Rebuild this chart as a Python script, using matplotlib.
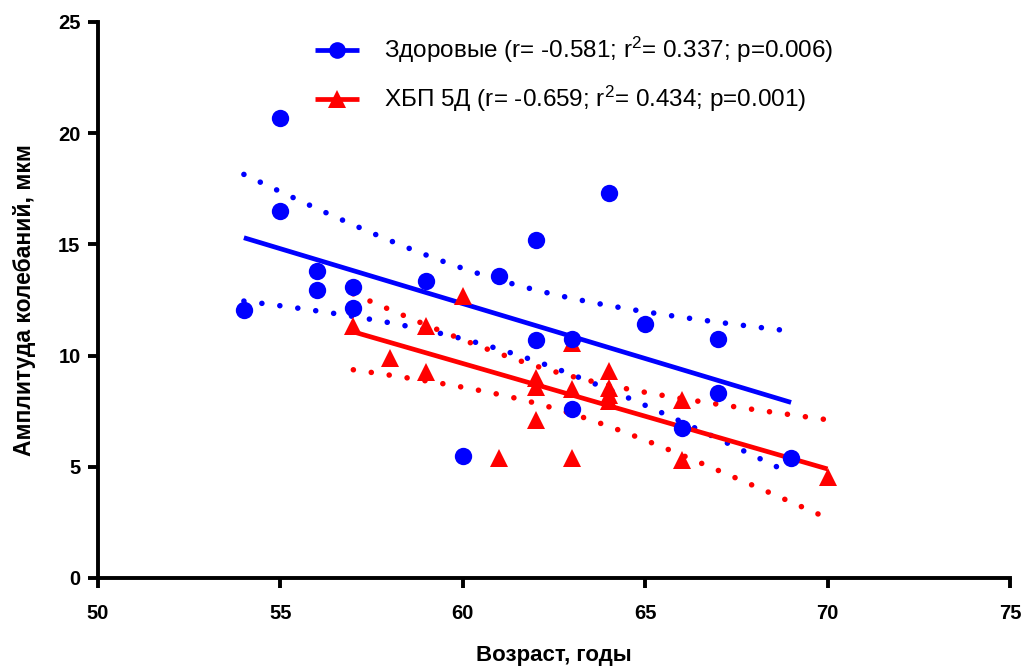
import numpy as np
import matplotlib
matplotlib.use("Agg")
import matplotlib.pyplot as plt

# Возраст и амплитуда колебаний: здоровые
healthy_age = [54, 55, 55, 56, 56, 57, 57, 59, 60, 61, 62, 62, 63, 63, 64, 65, 66, 67, 67, 69]
healthy_amp = [12.05, 20.7, 16.5, 13.8, 12.95, 13.1, 12.15, 13.35, 5.5, 13.6,
               15.2, 10.7, 10.75, 7.6, 17.3, 11.4, 6.75, 10.75, 8.3, 5.4]

# ХБП 5Д
ckd_age = [57, 58, 59, 59, 60, 61, 62, 62, 62, 63, 63, 63, 64, 64, 64, 64, 66, 66, 70]
ckd_amp = [11.33, 9.9, 11.33, 9.25, 12.7, 5.4, 9.0, 8.6, 7.1, 10.55, 8.5, 5.4,
           9.3, 8.55, 8.25, 7.95, 8.0, 5.3, 4.55]

healthy_label = "Здоровые (r= -0.581; r$^2$= 0.337; p=0.006)"
ckd_label = "ХБП 5Д (r= -0.659; r$^2$= 0.434; p=0.001)"

x_ticks = [50, 55, 60, 65, 70, 75]
y_ticks = [0, 5, 10, 15, 20, 25]

# two-sided 95% Student t critical values by degrees of freedom
T975 = {14: 2.145, 15: 2.131, 16: 2.120, 17: 2.110, 18: 2.101, 19: 2.093,
        20: 2.086, 21: 2.080, 22: 2.074, 23: 2.069, 24: 2.064}

plt.rcParams["font.family"] = ["Liberation Sans", "DejaVu Sans"]
plt.rcParams["mathtext.fontset"] = "custom"
plt.rcParams["mathtext.rm"] = "Liberation Sans"
plt.rcParams["mathtext.it"] = "Liberation Sans:italic"
plt.rcParams["mathtext.bf"] = "Liberation Sans:bold"


def fit_with_band(x, y, n_pts=200):
    x = np.asarray(x, float)
    y = np.asarray(y, float)
    n = len(x)
    slope, intercept = np.polyfit(x, y, 1)
    resid = y - (slope * x + intercept)
    s = np.sqrt(np.sum(resid ** 2) / (n - 2))
    sxx = np.sum((x - x.mean()) ** 2)
    xs = np.linspace(x.min(), x.max(), n_pts)
    ys = slope * xs + intercept
    half = T975[n - 2] * s * np.sqrt(1.0 / n + (xs - x.mean()) ** 2 / sxx)
    return xs, ys, ys - half, ys + half


fig = plt.figure(figsize=(10.27, 6.72), dpi=100)
ax = fig.add_axes([0.0954, 0.1399, 0.888, 0.8274])

BLUE = "#0000ff"
RED = "#ff0000"
LW = 3.4
dot_style = dict(linestyle=(0, (0.01, 3.25)), dash_capstyle="round", linewidth=4.0)

for age, amp, color in [(healthy_age, healthy_amp, BLUE), (ckd_age, ckd_amp, RED)]:
    xs, ys, lo, hi = fit_with_band(age, amp)
    ax.plot(xs, lo, color=color, zorder=2, **dot_style)
    ax.plot(xs, hi, color=color, zorder=2, **dot_style)

for age, amp, color in [(healthy_age, healthy_amp, BLUE), (ckd_age, ckd_amp, RED)]:
    xs, ys, lo, hi = fit_with_band(age, amp)
    ax.plot(xs, ys, color=color, linewidth=LW, solid_capstyle="butt", zorder=3)

ax.plot(ckd_age, ckd_amp, linestyle="none", marker="^", markersize=12.5,
        color=RED, markeredgewidth=0, zorder=4)
ax.plot(healthy_age, healthy_amp, linestyle="none", marker="o", markersize=12.5,
        color=BLUE, markeredgewidth=0, zorder=5)

# legend handles: line with a single marker
h1, = ax.plot([], [], color=BLUE, linewidth=LW, marker="o", markersize=12,
              markeredgewidth=0, solid_capstyle="butt", label=healthy_label)
h2, = ax.plot([], [], color=RED, linewidth=LW, marker="^", markersize=13,
              markeredgewidth=0, solid_capstyle="butt", label=ckd_label)
leg = ax.legend(handles=[h1, h2], loc="upper left", bbox_to_anchor=(0.238, 0.9766),
                frameon=False, fontsize=17.5, handlelength=1.8, handletextpad=1.05,
                labelspacing=0.78, borderpad=0, numpoints=1, borderaxespad=0)

ax.set_xlim(50, 75)
ax.set_ylim(0, 25)
ax.set_xticks(x_ticks)
ax.set_yticks(y_ticks)
ax.set_xticklabels([str(v) for v in x_ticks], fontsize=14.5, fontweight="bold")
ax.set_yticklabels([str(v) for v in y_ticks], fontsize=14.5, fontweight="bold")

for side in ["top", "right"]:
    ax.spines[side].set_visible(False)
for side in ["left", "bottom"]:
    ax.spines[side].set_linewidth(2.8)
    ax.spines[side].set_capstyle("projecting")
ax.tick_params(direction="out", length=7.5, width=2.8, color="black")
ax.tick_params(axis="x", pad=11)
ax.tick_params(axis="y", pad=5)

ax.set_xlabel("Возраст, годы", fontsize=16, fontweight="bold", labelpad=16)
ax.set_ylabel("Амплитуда колебаний, мкм", fontsize=16.5, fontweight="bold", labelpad=16)

fig.savefig("out.png", dpi=100)
